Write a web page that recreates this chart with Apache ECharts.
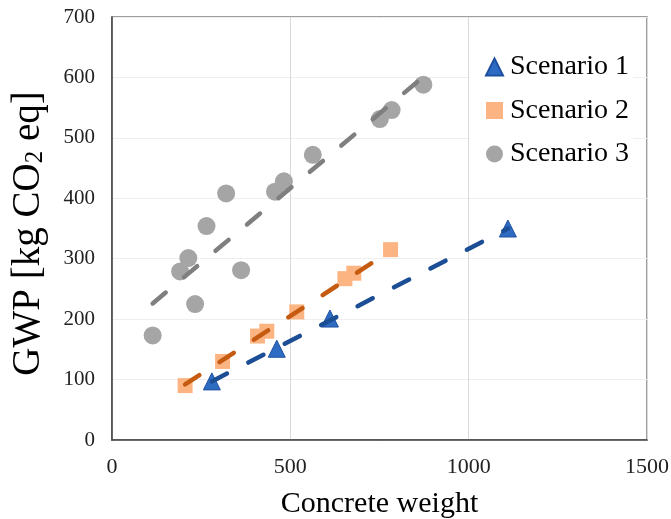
<!DOCTYPE html>
<html>
<head>
<meta charset="utf-8">
<script src="https://cdn.jsdelivr.net/npm/echarts@6/dist/echarts.min.js"></script>
<style>html,body{margin:0;padding:0;background:#fff}#c{width:671px;height:519px}</style>
</head>
<body>
<div id="c"></div>
<script>
var seriesNames = ['Scenario 1', 'Scenario 2', 'Scenario 3'];
var scenario1 = [[280, 97], [462, 151], [611, 201], [1110, 350]];
var scenario2 = [[205, 90], [310, 130], [408, 172], [434, 180], [518, 212], [653, 267], [678, 276], [781, 315]];
var scenario3 = [[114, 173], [191, 279], [214, 301], [233, 225], [265, 354], [320, 408], [362, 281], [457, 411], [482, 428], [563, 472], [751, 531], [784, 546], [873, 588]];
var trend1 = [[280, 97], [1110, 350]];
var trend2 = [[205, 92], [781, 313]];
var trend3 = [[114, 226], [873, 601]];
var xTicks = [0, 500, 1000, 1500];
var yTicks = [0, 100, 200, 300, 400, 500, 600, 700];

var FONT = "'Liberation Serif', 'Times New Roman', serif";
var chart = echarts.init(document.getElementById('c'), null, {renderer: 'canvas'});
var dash = [17, 24];
function trend(data, color) {
  return {
    type: 'line', data: data, symbol: 'none', silent: true, z: 5,
    lineStyle: {color: color, width: 4.5, type: dash, cap: 'round'},
    legendHoverLink: false, animation: false
  };
}
chart.setOption({
  animation: false,
  backgroundColor: '#fff',
  grid: {left: 112, right: 24, top: 17, bottom: 79, show: true, borderColor: '#7f7f7f', borderWidth: 1.5, outerBoundsMode: 'none'},
  legend: {
    data: seriesNames,
    orient: 'vertical',
    left: 470, top: 42,
    padding: [10, 4, 10, 15],
    backgroundColor: '#fff',
    itemWidth: 17, itemHeight: 17,
    itemGap: 13.5,
    textStyle: {fontFamily: FONT, fontSize: 28, color: '#000', lineHeight: 30, padding: [0, 0, 0, 2]}
  },
  xAxis: {
    type: 'value', min: xTicks[0], max: xTicks[xTicks.length - 1], interval: 500,
    name: 'Concrete weight', nameLocation: 'middle', nameGap: 49,
    nameTextStyle: {fontFamily: FONT, fontSize: 30, color: '#000'},
    axisLine: {show: true, onZero: false, lineStyle: {color: '#404040', width: 1.5}},
    axisTick: {show: false},
    axisLabel: {fontFamily: FONT, fontSize: 22, color: '#222', margin: 16, formatter: function (v) { return String(v); }},
    splitLine: {show: true, lineStyle: {color: '#d9d9d9', width: 1}}
  },
  yAxis: {
    type: 'value', min: yTicks[0], max: yTicks[yTicks.length - 1], interval: 100,
    name: '{a|GWP [kg CO}{b|2}{a| eq]}', nameLocation: 'middle', nameGap: 64, nameRotate: 90,
    nameTextStyle: {
      padding: [0, 10, 0, 0],
      rich: {
        a: {fontFamily: FONT, fontSize: 39, color: '#000', verticalAlign: 'bottom', lineHeight: 42},
        b: {fontFamily: FONT, fontSize: 25, color: '#000', verticalAlign: 'bottom', lineHeight: 34}
      }
    },
    axisLine: {show: true, lineStyle: {color: '#404040', width: 1.5}},
    axisTick: {show: false},
    axisLabel: {fontFamily: FONT, fontSize: 21, color: '#222', margin: 17, formatter: function (v) { return String(v); }},
    splitLine: {show: true, lineStyle: {color: '#efefef', width: 1}}
  },
  series: [
    {name: seriesNames[0], type: 'scatter', data: scenario1, symbol: 'triangle', symbolSize: 17, z: 3,
     itemStyle: {color: '#2E6CC4', borderColor: '#1F50A0', borderWidth: 1, opacity: 1}},
    {name: seriesNames[1], type: 'scatter', data: scenario2, symbol: 'rect', symbolSize: 15, z: 3,
     itemStyle: {color: '#FCB482', opacity: 1}},
    {name: seriesNames[2], type: 'scatter', data: scenario3, symbol: 'circle', symbolSize: 18, z: 3,
     itemStyle: {color: '#A5A5A5', opacity: 1}},
    trend(trend1, '#1C4E95'),
    trend(trend2, '#C55A11'),
    trend(trend3, '#7F7F7F')
  ]
});
</script>
</body>
</html>
